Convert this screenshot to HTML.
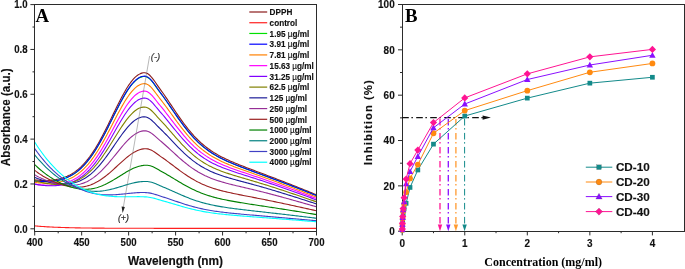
<!DOCTYPE html>
<html><head><meta charset="utf-8"><style>
html,body{margin:0;padding:0;background:#fff;}
body{width:685px;height:269px;overflow:hidden;font-family:"Liberation Sans",sans-serif;}
svg{display:block;will-change:transform;}
</style></head><body>
<svg width="685" height="269" viewBox="0 0 685 269">
<rect width="685" height="269" fill="#fff"/>
<defs><clipPath id="ca"><rect x="34.7" y="4.6" width="281.8" height="226.7"/></clipPath></defs>
<g clip-path="url(#ca)" fill="none" stroke-width="1.1" stroke-linejoin="round">
<path d="M34.70 179.81L36.11 180.00L37.52 180.16L38.93 180.29L40.34 180.39L41.75 180.46L43.15 180.51L44.56 180.52L45.97 180.51L47.38 180.47L48.79 180.40L50.20 180.30L51.61 180.17L53.02 180.01L54.43 179.82L55.84 179.60L57.24 179.33L58.65 179.03L60.06 178.69L61.47 178.30L62.88 177.87L64.29 177.38L65.70 176.85L67.11 176.26L68.52 175.61L69.93 174.90L71.33 174.12L72.74 173.28L74.15 172.37L75.56 171.38L76.97 170.31L78.38 169.16L79.79 167.93L81.20 166.62L82.61 165.21L84.02 163.72L85.42 162.13L86.83 160.45L88.24 158.68L89.65 156.81L91.06 154.85L92.47 152.80L93.88 150.65L95.29 148.42L96.70 146.09L98.11 143.69L99.51 141.20L100.92 138.63L102.33 136.00L103.74 133.30L105.15 130.55L106.56 127.75L107.97 124.91L109.38 122.03L110.79 119.13L112.20 116.23L113.60 113.32L115.01 110.42L116.42 107.54L117.83 104.70L119.24 101.90L120.65 99.16L122.06 96.50L123.47 93.91L124.88 91.43L126.28 89.05L127.69 86.80L129.10 84.67L130.51 82.70L131.92 80.87L133.33 79.21L134.74 77.72L136.15 76.41L137.56 75.29L138.97 74.37L140.38 73.64L141.78 73.12L143.19 72.80L144.60 72.72L146.01 72.96L147.42 73.55L148.83 74.49L150.24 75.76L151.65 77.31L153.06 79.09L154.47 81.03L155.87 83.06L157.28 85.13L158.69 87.17L160.10 89.15L161.51 91.07L162.92 93.03L164.33 95.03L165.74 97.07L167.15 99.13L168.56 101.22L169.96 103.32L171.37 105.43L172.78 107.54L174.19 109.65L175.60 111.74L177.01 113.82L178.42 115.87L179.83 117.89L181.24 119.88L182.64 121.84L184.05 123.75L185.46 125.62L186.87 127.44L188.28 129.22L189.69 130.94L191.10 132.61L192.51 134.22L193.92 135.79L195.33 137.29L196.74 138.75L198.14 140.15L199.55 141.50L200.96 142.79L202.37 144.03L203.78 145.23L205.19 146.38L206.60 147.48L208.01 148.54L209.42 149.55L210.82 150.53L212.23 151.46L213.64 152.37L215.05 153.24L216.46 154.07L217.87 154.88L219.28 155.66L220.69 156.41L222.10 157.14L223.51 157.85L224.92 158.54L226.32 159.21L227.73 159.87L229.14 160.51L230.55 161.13L231.96 161.75L233.37 162.35L234.78 162.94L236.19 163.52L237.60 164.09L239.00 164.66L240.41 165.22L241.82 165.78L243.23 166.33L244.64 166.87L246.05 167.42L247.46 167.96L248.87 168.49L250.28 169.03L251.69 169.56L253.10 170.09L254.50 170.62L255.91 171.15L257.32 171.68L258.73 172.21L260.14 172.74L261.55 173.27L262.96 173.80L264.37 174.33L265.78 174.86L267.19 175.39L268.59 175.93L270.00 176.46L271.41 176.99L272.82 177.53L274.23 178.06L275.64 178.60L277.05 179.14L278.46 179.68L279.87 180.22L281.27 180.77L282.68 181.31L284.09 181.85L285.50 182.40L286.91 182.95L288.32 183.50L289.73 184.05L291.14 184.61L292.55 185.16L293.96 185.72L295.37 186.28L296.77 186.83L298.18 187.40L299.59 187.96L301.00 188.52L302.41 189.09L303.82 189.66L305.23 190.23L306.64 190.80L308.05 191.38L309.45 191.95L310.86 192.53L312.27 193.11L313.68 193.70L315.09 194.28L316.50 194.87" stroke="#8a1c1c"/>
<path d="M34.70 225.89L36.11 226.01L37.52 226.14L38.93 226.25L40.34 226.36L41.75 226.46L43.15 226.56L44.56 226.66L45.97 226.75L47.38 226.83L48.79 226.91L50.20 226.98L51.61 227.05L53.02 227.12L54.43 227.19L55.84 227.25L57.24 227.31L58.65 227.36L60.06 227.41L61.47 227.46L62.88 227.51L64.29 227.55L65.70 227.59L67.11 227.63L68.52 227.67L69.93 227.71L71.33 227.74L72.74 227.77L74.15 227.80L75.56 227.83L76.97 227.86L78.38 227.88L79.79 227.91L81.20 227.93L82.61 227.95L84.02 227.97L85.42 227.99L86.83 228.01L88.24 228.03L89.65 228.05L91.06 228.06L92.47 228.08L93.88 228.09L95.29 228.11L96.70 228.12L98.11 228.13L99.51 228.14L100.92 228.15L102.33 228.16L103.74 228.17L105.15 228.18L106.56 228.19L107.97 228.20L109.38 228.21L110.79 228.21L112.20 228.22L113.60 228.23L115.01 228.24L116.42 228.24L117.83 228.25L119.24 228.25L120.65 228.26L122.06 228.26L123.47 228.27L124.88 228.27L126.28 228.28L127.69 228.28L129.10 228.28L130.51 228.29L131.92 228.29L133.33 228.29L134.74 228.30L136.15 228.30L137.56 228.30L138.97 228.30L140.38 228.31L141.78 228.31L143.19 228.31L144.60 228.31L146.01 228.32L147.42 228.32L148.83 228.32L150.24 228.32L151.65 228.32L153.06 228.32L154.47 228.33L155.87 228.33L157.28 228.33L158.69 228.33L160.10 228.33L161.51 228.33L162.92 228.33L164.33 228.33L165.74 228.33L167.15 228.34L168.56 228.34L169.96 228.34L171.37 228.34L172.78 228.34L174.19 228.34L175.60 228.34L177.01 228.34L178.42 228.34L179.83 228.34L181.24 228.34L182.64 228.34L184.05 228.34L185.46 228.34L186.87 228.34L188.28 228.34L189.69 228.34L191.10 228.35L192.51 228.35L193.92 228.35L195.33 228.35L196.74 228.35L198.14 228.35L199.55 228.35L200.96 228.35L202.37 228.35L203.78 228.35L205.19 228.35L206.60 228.35L208.01 228.35L209.42 228.35L210.82 228.35L212.23 228.35L213.64 228.35L215.05 228.35L216.46 228.35L217.87 228.35L219.28 228.35L220.69 228.35L222.10 228.35L223.51 228.35L224.92 228.35L226.32 228.35L227.73 228.35L229.14 228.35L230.55 228.35L231.96 228.35L233.37 228.35L234.78 228.35L236.19 228.35L237.60 228.35L239.00 228.35L240.41 228.35L241.82 228.35L243.23 228.35L244.64 228.35L246.05 228.35L247.46 228.35L248.87 228.35L250.28 228.35L251.69 228.35L253.10 228.35L254.50 228.35L255.91 228.35L257.32 228.35L258.73 228.35L260.14 228.35L261.55 228.35L262.96 228.35L264.37 228.35L265.78 228.35L267.19 228.35L268.59 228.35L270.00 228.35L271.41 228.35L272.82 228.35L274.23 228.35L275.64 228.35L277.05 228.35L278.46 228.35L279.87 228.35L281.27 228.35L282.68 228.35L284.09 228.35L285.50 228.35L286.91 228.35L288.32 228.35L289.73 228.35L291.14 228.35L292.55 228.35L293.96 228.35L295.37 228.35L296.77 228.35L298.18 228.35L299.59 228.35L301.00 228.35L302.41 228.35L303.82 228.35L305.23 228.35L306.64 228.35L308.05 228.35L309.45 228.35L310.86 228.35L312.27 228.35L313.68 228.35L315.09 228.35L316.50 228.35" stroke="#ff2020"/>
<path d="M34.70 180.95L36.11 181.14L37.52 181.30L38.93 181.43L40.34 181.53L41.75 181.60L43.15 181.64L44.56 181.65L45.97 181.64L47.38 181.60L48.79 181.54L50.20 181.44L51.61 181.32L53.02 181.16L54.43 180.98L55.84 180.76L57.24 180.50L58.65 180.20L60.06 179.87L61.47 179.49L62.88 179.07L64.29 178.60L65.70 178.08L67.11 177.50L68.52 176.87L69.93 176.18L71.33 175.42L72.74 174.60L74.15 173.71L75.56 172.74L76.97 171.70L78.38 170.58L79.79 169.38L81.20 168.10L82.61 166.73L84.02 165.27L85.42 163.72L86.83 162.08L88.24 160.35L89.65 158.53L91.06 156.62L92.47 154.61L93.88 152.52L95.29 150.34L96.70 148.07L98.11 145.72L99.51 143.29L100.92 140.79L102.33 138.22L103.74 135.59L105.15 132.90L106.56 130.17L107.97 127.39L109.38 124.59L110.79 121.76L112.20 118.92L113.60 116.08L115.01 113.25L116.42 110.45L117.83 107.67L119.24 104.94L120.65 102.27L122.06 99.67L123.47 97.15L124.88 94.72L126.28 92.40L127.69 90.20L129.10 88.13L130.51 86.20L131.92 84.42L133.33 82.80L134.74 81.34L136.15 80.07L137.56 78.98L138.97 78.07L140.38 77.37L141.78 76.86L143.19 76.54L144.60 76.46L146.01 76.70L147.42 77.27L148.83 78.19L150.24 79.43L151.65 80.95L153.06 82.68L154.47 84.57L155.87 86.56L157.28 88.57L158.69 90.57L160.10 92.50L161.51 94.37L162.92 96.29L164.33 98.24L165.74 100.23L167.15 102.25L168.56 104.28L169.96 106.34L171.37 108.40L172.78 110.45L174.19 112.51L175.60 114.55L177.01 116.58L178.42 118.58L179.83 120.55L181.24 122.50L182.64 124.40L184.05 126.27L185.46 128.10L186.87 129.88L188.28 131.61L189.69 133.29L191.10 134.92L192.51 136.49L193.92 138.02L195.33 139.49L196.74 140.91L198.14 142.28L199.55 143.59L200.96 144.85L202.37 146.07L203.78 147.24L205.19 148.36L206.60 149.43L208.01 150.46L209.42 151.45L210.82 152.41L212.23 153.32L213.64 154.20L215.05 155.05L216.46 155.87L217.87 156.65L219.28 157.41L220.69 158.15L222.10 158.86L223.51 159.56L224.92 160.23L226.32 160.88L227.73 161.52L229.14 162.15L230.55 162.76L231.96 163.35L233.37 163.94L234.78 164.52L236.19 165.09L237.60 165.65L239.00 166.20L240.41 166.75L241.82 167.29L243.23 167.83L244.64 168.36L246.05 168.89L247.46 169.42L248.87 169.94L250.28 170.46L251.69 170.98L253.10 171.50L254.50 172.02L255.91 172.54L257.32 173.05L258.73 173.57L260.14 174.09L261.55 174.60L262.96 175.12L264.37 175.64L265.78 176.16L267.19 176.68L268.59 177.19L270.00 177.72L271.41 178.24L272.82 178.76L274.23 179.28L275.64 179.81L277.05 180.33L278.46 180.86L279.87 181.39L281.27 181.92L282.68 182.45L284.09 182.98L285.50 183.52L286.91 184.05L288.32 184.59L289.73 185.13L291.14 185.67L292.55 186.21L293.96 186.75L295.37 187.30L296.77 187.84L298.18 188.39L299.59 188.94L301.00 189.49L302.41 190.04L303.82 190.60L305.23 191.16L306.64 191.72L308.05 192.28L309.45 192.84L310.86 193.40L312.27 193.97L313.68 194.54L315.09 195.11L316.50 195.68" stroke="#00e000"/>
<path d="M34.70 180.86L36.11 181.05L37.52 181.21L38.93 181.33L40.34 181.43L41.75 181.50L43.15 181.54L44.56 181.56L45.97 181.55L47.38 181.51L48.79 181.44L50.20 181.35L51.61 181.22L53.02 181.07L54.43 180.88L55.84 180.66L57.24 180.40L58.65 180.11L60.06 179.77L61.47 179.39L62.88 178.97L64.29 178.50L65.70 177.98L67.11 177.40L68.52 176.76L69.93 176.07L71.33 175.31L72.74 174.49L74.15 173.60L75.56 172.63L76.97 171.59L78.38 170.46L79.79 169.26L81.20 167.97L82.61 166.60L84.02 165.14L85.42 163.59L86.83 161.95L88.24 160.21L89.65 158.39L91.06 156.47L92.47 154.46L93.88 152.36L95.29 150.18L96.70 147.90L98.11 145.55L99.51 143.12L100.92 140.61L102.33 138.04L103.74 135.40L105.15 132.71L106.56 129.97L107.97 127.19L109.38 124.37L110.79 121.54L112.20 118.70L113.60 115.85L115.01 113.02L116.42 110.20L117.83 107.42L119.24 104.69L120.65 102.01L122.06 99.40L123.47 96.88L124.88 94.45L126.28 92.13L127.69 89.92L129.10 87.84L130.51 85.91L131.92 84.12L133.33 82.50L134.74 81.04L136.15 79.76L137.56 78.67L138.97 77.76L140.38 77.06L141.78 76.55L143.19 76.23L144.60 76.15L146.01 76.39L147.42 76.96L148.83 77.89L150.24 79.13L151.65 80.64L153.06 82.38L154.47 84.28L155.87 86.27L157.28 88.29L158.69 90.28L160.10 92.22L161.51 94.10L162.92 96.01L164.33 97.97L165.74 99.97L167.15 101.99L168.56 104.03L169.96 106.09L171.37 108.15L172.78 110.21L174.19 112.27L175.60 114.32L177.01 116.35L178.42 118.35L179.83 120.33L181.24 122.28L182.64 124.19L184.05 126.06L185.46 127.89L186.87 129.67L188.28 131.41L189.69 133.09L191.10 134.72L192.51 136.31L193.92 137.83L195.33 139.31L196.74 140.73L198.14 142.10L199.55 143.42L200.96 144.68L202.37 145.90L203.78 147.07L205.19 148.19L206.60 149.27L208.01 150.30L209.42 151.30L210.82 152.25L212.23 153.17L213.64 154.05L215.05 154.90L216.46 155.72L217.87 156.51L219.28 157.27L220.69 158.01L222.10 158.72L223.51 159.41L224.92 160.09L226.32 160.75L227.73 161.39L229.14 162.01L230.55 162.62L231.96 163.22L233.37 163.81L234.78 164.39L236.19 164.96L237.60 165.52L239.00 166.07L240.41 166.62L241.82 167.16L243.23 167.70L244.64 168.24L246.05 168.77L247.46 169.30L248.87 169.82L250.28 170.34L251.69 170.87L253.10 171.39L254.50 171.90L255.91 172.42L257.32 172.94L258.73 173.46L260.14 173.98L261.55 174.49L262.96 175.01L264.37 175.53L265.78 176.05L267.19 176.57L268.59 177.09L270.00 177.61L271.41 178.13L272.82 178.66L274.23 179.18L275.64 179.71L277.05 180.23L278.46 180.76L279.87 181.29L281.27 181.82L282.68 182.35L284.09 182.89L285.50 183.42L286.91 183.96L288.32 184.50L289.73 185.04L291.14 185.58L292.55 186.12L293.96 186.66L295.37 187.21L296.77 187.76L298.18 188.31L299.59 188.86L301.00 189.41L302.41 189.97L303.82 190.52L305.23 191.08L306.64 191.64L308.05 192.20L309.45 192.76L310.86 193.33L312.27 193.90L313.68 194.47L315.09 195.04L316.50 195.61" stroke="#0000ff"/>
<path d="M34.70 182.29L36.11 182.50L37.52 182.68L38.93 182.84L40.34 182.96L41.75 183.06L43.15 183.13L44.56 183.18L45.97 183.20L47.38 183.20L48.79 183.17L50.20 183.11L51.61 183.03L53.02 182.91L54.43 182.77L55.84 182.60L57.24 182.39L58.65 182.14L60.06 181.86L61.47 181.54L62.88 181.18L64.29 180.77L65.70 180.31L67.11 179.80L68.52 179.24L69.93 178.62L71.33 177.95L72.74 177.20L74.15 176.40L75.56 175.52L76.97 174.57L78.38 173.54L79.79 172.44L81.20 171.26L82.61 169.99L84.02 168.64L85.42 167.20L86.83 165.67L88.24 164.06L89.65 162.35L91.06 160.56L92.47 158.67L93.88 156.70L95.29 154.64L96.70 152.50L98.11 150.27L99.51 147.97L100.92 145.59L102.33 143.15L103.74 140.64L105.15 138.08L106.56 135.46L107.97 132.81L109.38 130.12L110.79 127.41L112.20 124.68L113.60 121.95L115.01 119.23L116.42 116.53L117.83 113.85L119.24 111.22L120.65 108.64L122.06 106.12L123.47 103.68L124.88 101.34L126.28 99.09L127.69 96.96L129.10 94.95L130.51 93.07L131.92 91.34L133.33 89.77L134.74 88.36L136.15 87.12L137.56 86.06L138.97 85.18L140.38 84.49L141.78 84.00L143.19 83.69L144.60 83.61L146.01 83.84L147.42 84.39L148.83 85.27L150.24 86.46L151.65 87.91L153.06 89.56L154.47 91.36L155.87 93.24L157.28 95.15L158.69 97.04L160.10 98.87L161.51 100.65L162.92 102.47L164.33 104.33L165.74 106.22L167.15 108.14L168.56 110.07L169.96 112.02L171.37 113.98L172.78 115.93L174.19 117.88L175.60 119.82L177.01 121.74L178.42 123.64L179.83 125.52L181.24 127.36L182.64 129.17L184.05 130.94L185.46 132.67L186.87 134.35L188.28 135.99L189.69 137.58L191.10 139.12L192.51 140.61L193.92 142.05L195.33 143.44L196.74 144.78L198.14 146.07L199.55 147.31L200.96 148.50L202.37 149.65L203.78 150.74L205.19 151.80L206.60 152.81L208.01 153.78L209.42 154.71L210.82 155.60L212.23 156.46L213.64 157.28L215.05 158.07L216.46 158.84L217.87 159.58L219.28 160.29L220.69 160.97L222.10 161.64L223.51 162.29L224.92 162.92L226.32 163.53L227.73 164.12L229.14 164.71L230.55 165.28L231.96 165.84L233.37 166.39L234.78 166.93L236.19 167.46L237.60 167.99L239.00 168.51L240.41 169.02L241.82 169.53L243.23 170.04L244.64 170.54L246.05 171.05L247.46 171.55L248.87 172.04L250.28 172.54L251.69 173.04L253.10 173.53L254.50 174.03L255.91 174.52L257.32 175.02L258.73 175.52L260.14 176.01L261.55 176.51L262.96 177.01L264.37 177.51L265.78 178.01L267.19 178.51L268.59 179.02L270.00 179.52L271.41 180.03L272.82 180.54L274.23 181.05L275.64 181.56L277.05 182.08L278.46 182.59L279.87 183.11L281.27 183.63L282.68 184.15L284.09 184.67L285.50 185.19L286.91 185.71L288.32 186.24L289.73 186.77L291.14 187.30L292.55 187.83L293.96 188.36L295.37 188.89L296.77 189.43L298.18 189.96L299.59 190.50L301.00 191.04L302.41 191.58L303.82 192.12L305.23 192.67L306.64 193.21L308.05 193.76L309.45 194.31L310.86 194.86L312.27 195.41L313.68 195.96L315.09 196.51L316.50 197.07" stroke="#ff8000"/>
<path d="M34.70 184.16L36.11 184.38L37.52 184.58L38.93 184.74L40.34 184.88L41.75 185.00L43.15 185.09L44.56 185.15L45.97 185.20L47.38 185.21L48.79 185.21L50.20 185.18L51.61 185.12L53.02 185.04L54.43 184.93L55.84 184.79L57.24 184.62L58.65 184.42L60.06 184.18L61.47 183.91L62.88 183.59L64.29 183.24L65.70 182.84L67.11 182.39L68.52 181.89L69.93 181.34L71.33 180.73L72.74 180.06L74.15 179.33L75.56 178.54L76.97 177.67L78.38 176.73L79.79 175.72L81.20 174.64L82.61 173.47L84.02 172.22L85.42 170.89L86.83 169.47L88.24 167.97L89.65 166.38L91.06 164.70L92.47 162.93L93.88 161.08L95.29 159.15L96.70 157.13L98.11 155.03L99.51 152.85L100.92 150.60L102.33 148.29L103.74 145.90L105.15 143.47L106.56 140.98L107.97 138.45L109.38 135.88L110.79 133.29L112.20 130.68L113.60 128.07L115.01 125.45L116.42 122.86L117.83 120.29L119.24 117.75L120.65 115.27L122.06 112.85L123.47 110.50L124.88 108.23L126.28 106.06L127.69 104.00L129.10 102.06L130.51 100.25L131.92 98.57L133.33 97.05L134.74 95.68L136.15 94.48L137.56 93.45L138.97 92.60L140.38 91.93L141.78 91.45L143.19 91.15L144.60 91.08L146.01 91.29L147.42 91.82L148.83 92.67L150.24 93.80L151.65 95.17L153.06 96.74L154.47 98.44L155.87 100.22L157.28 102.02L158.69 103.80L160.10 105.52L161.51 107.21L162.92 108.93L164.33 110.69L165.74 112.47L167.15 114.29L168.56 116.12L169.96 117.96L171.37 119.81L172.78 121.65L174.19 123.50L175.60 125.33L177.01 127.14L178.42 128.94L179.83 130.70L181.24 132.44L182.64 134.15L184.05 135.82L185.46 137.44L186.87 139.03L188.28 140.57L189.69 142.07L191.10 143.52L192.51 144.92L193.92 146.28L195.33 147.58L196.74 148.84L198.14 150.05L199.55 151.21L200.96 152.32L202.37 153.39L203.78 154.42L205.19 155.40L206.60 156.35L208.01 157.25L209.42 158.12L210.82 158.95L212.23 159.75L213.64 160.51L215.05 161.25L216.46 161.96L217.87 162.64L219.28 163.31L220.69 163.94L222.10 164.56L223.51 165.16L224.92 165.74L226.32 166.31L227.73 166.86L229.14 167.40L230.55 167.93L231.96 168.45L233.37 168.97L234.78 169.47L236.19 169.97L237.60 170.46L239.00 170.94L240.41 171.42L241.82 171.90L243.23 172.38L244.64 172.85L246.05 173.32L247.46 173.80L248.87 174.27L250.28 174.74L251.69 175.21L253.10 175.68L254.50 176.15L255.91 176.62L257.32 177.10L258.73 177.57L260.14 178.05L261.55 178.53L262.96 179.01L264.37 179.49L265.78 179.97L267.19 180.46L268.59 180.95L270.00 181.44L271.41 181.93L272.82 182.42L274.23 182.92L275.64 183.42L277.05 183.92L278.46 184.42L279.87 184.92L281.27 185.43L282.68 185.94L284.09 186.45L285.50 186.96L286.91 187.47L288.32 187.98L289.73 188.50L291.14 189.02L292.55 189.53L293.96 190.05L295.37 190.57L296.77 191.10L298.18 191.62L299.59 192.14L301.00 192.67L302.41 193.20L303.82 193.72L305.23 194.25L306.64 194.78L308.05 195.32L309.45 195.85L310.86 196.38L312.27 196.92L313.68 197.45L315.09 197.99L316.50 198.53" stroke="#ff00ff"/>
<path d="M34.70 184.09L36.11 184.37L37.52 184.62L38.93 184.85L40.34 185.05L41.75 185.22L43.15 185.37L44.56 185.50L45.97 185.60L47.38 185.68L48.79 185.74L50.20 185.77L51.61 185.78L53.02 185.77L54.43 185.72L55.84 185.65L57.24 185.55L58.65 185.41L60.06 185.25L61.47 185.05L62.88 184.81L64.29 184.53L65.70 184.21L67.11 183.84L68.52 183.43L69.93 182.97L71.33 182.45L72.74 181.87L74.15 181.24L75.56 180.54L76.97 179.78L78.38 178.95L79.79 178.05L81.20 177.07L82.61 176.02L84.02 174.89L85.42 173.67L86.83 172.38L88.24 171.00L89.65 169.54L91.06 167.99L92.47 166.36L93.88 164.64L95.29 162.84L96.70 160.96L98.11 159.00L99.51 156.96L100.92 154.85L102.33 152.67L103.74 150.43L105.15 148.13L106.56 145.77L107.97 143.38L109.38 140.94L110.79 138.48L112.20 136.00L113.60 133.51L115.01 131.03L116.42 128.55L117.83 126.09L119.24 123.67L120.65 121.29L122.06 118.97L123.47 116.72L124.88 114.55L126.28 112.47L127.69 110.49L129.10 108.62L130.51 106.88L131.92 105.27L133.33 103.80L134.74 102.48L136.15 101.33L137.56 100.34L138.97 99.52L140.38 98.88L141.78 98.42L143.19 98.13L144.60 98.06L146.01 98.27L147.42 98.78L148.83 99.59L150.24 100.67L151.65 101.98L153.06 103.47L154.47 105.09L155.87 106.77L157.28 108.47L158.69 110.14L160.10 111.77L161.51 113.37L162.92 115.00L164.33 116.66L165.74 118.36L167.15 120.07L168.56 121.80L169.96 123.55L171.37 125.30L172.78 127.04L174.19 128.79L175.60 130.52L177.01 132.24L178.42 133.93L179.83 135.60L181.24 137.25L182.64 138.86L184.05 140.43L185.46 141.97L186.87 143.47L188.28 144.92L189.69 146.34L191.10 147.70L192.51 149.02L193.92 150.30L195.33 151.53L196.74 152.71L198.14 153.85L199.55 154.94L200.96 155.99L202.37 156.99L203.78 157.96L205.19 158.88L206.60 159.76L208.01 160.61L209.42 161.42L210.82 162.20L212.23 162.95L213.64 163.66L215.05 164.35L216.46 165.01L217.87 165.65L219.28 166.27L220.69 166.86L222.10 167.44L223.51 168.00L224.92 168.54L226.32 169.07L227.73 169.59L229.14 170.09L230.55 170.59L231.96 171.07L233.37 171.55L234.78 172.02L236.19 172.48L237.60 172.94L239.00 173.40L240.41 173.85L241.82 174.30L243.23 174.75L244.64 175.20L246.05 175.64L247.46 176.09L248.87 176.53L250.28 176.98L251.69 177.42L253.10 177.87L254.50 178.32L255.91 178.77L257.32 179.22L258.73 179.68L260.14 180.14L261.55 180.59L262.96 181.05L264.37 181.52L265.78 181.98L267.19 182.45L268.59 182.92L270.00 183.39L271.41 183.87L272.82 184.35L274.23 184.83L275.64 185.31L277.05 185.79L278.46 186.28L279.87 186.77L281.27 187.26L282.68 187.75L284.09 188.24L285.50 188.74L286.91 189.24L288.32 189.73L289.73 190.23L291.14 190.74L292.55 191.24L293.96 191.74L295.37 192.25L296.77 192.75L298.18 193.26L299.59 193.77L301.00 194.28L302.41 194.79L303.82 195.30L305.23 195.81L306.64 196.33L308.05 196.84L309.45 197.35L310.86 197.87L312.27 198.39L313.68 198.90L315.09 199.42L316.50 199.94" stroke="#8000ff"/>
<path d="M34.70 180.58L36.11 181.03L37.52 181.45L38.93 181.84L40.34 182.20L41.75 182.53L43.15 182.83L44.56 183.11L45.97 183.36L47.38 183.59L48.79 183.79L50.20 183.97L51.61 184.11L53.02 184.24L54.43 184.33L55.84 184.40L57.24 184.43L58.65 184.43L60.06 184.40L61.47 184.33L62.88 184.23L64.29 184.09L65.70 183.90L67.11 183.67L68.52 183.40L69.93 183.07L71.33 182.69L72.74 182.26L74.15 181.77L75.56 181.22L76.97 180.61L78.38 179.94L79.79 179.19L81.20 178.37L82.61 177.48L84.02 176.52L85.42 175.48L86.83 174.36L88.24 173.16L89.65 171.88L91.06 170.52L92.47 169.08L93.88 167.56L95.29 165.96L96.70 164.28L98.11 162.53L99.51 160.70L100.92 158.80L102.33 156.84L103.74 154.81L105.15 152.73L106.56 150.60L107.97 148.43L109.38 146.22L110.79 143.98L112.20 141.72L113.60 139.45L115.01 137.18L116.42 134.92L117.83 132.67L119.24 130.46L120.65 128.28L122.06 126.16L123.47 124.09L124.88 122.10L126.28 120.19L127.69 118.38L129.10 116.67L130.51 115.07L131.92 113.59L133.33 112.25L134.74 111.04L136.15 109.99L137.56 109.08L138.97 108.34L140.38 107.76L141.78 107.34L143.19 107.09L144.60 107.04L146.01 107.25L147.42 107.74L148.83 108.50L150.24 109.52L151.65 110.74L153.06 112.14L154.47 113.64L155.87 115.20L157.28 116.78L158.69 118.34L160.10 119.85L161.51 121.34L162.92 122.85L164.33 124.40L165.74 125.97L167.15 127.57L168.56 129.18L169.96 130.80L171.37 132.42L172.78 134.04L174.19 135.66L175.60 137.27L177.01 138.86L178.42 140.44L179.83 141.99L181.24 143.51L182.64 145.01L184.05 146.47L185.46 147.90L186.87 149.28L188.28 150.63L189.69 151.94L191.10 153.21L192.51 154.43L193.92 155.61L195.33 156.75L196.74 157.84L198.14 158.90L199.55 159.91L200.96 160.87L202.37 161.80L203.78 162.69L205.19 163.54L206.60 164.36L208.01 165.14L209.42 165.89L210.82 166.60L212.23 167.29L213.64 167.95L215.05 168.58L216.46 169.19L217.87 169.78L219.28 170.35L220.69 170.89L222.10 171.42L223.51 171.94L224.92 172.43L226.32 172.92L227.73 173.39L229.14 173.86L230.55 174.31L231.96 174.76L233.37 175.20L234.78 175.63L236.19 176.06L237.60 176.48L239.00 176.90L240.41 177.32L241.82 177.74L243.23 178.15L244.64 178.57L246.05 178.98L247.46 179.39L248.87 179.81L250.28 180.22L251.69 180.64L253.10 181.05L254.50 181.47L255.91 181.89L257.32 182.32L258.73 182.74L260.14 183.17L261.55 183.60L262.96 184.03L264.37 184.47L265.78 184.90L267.19 185.34L268.59 185.79L270.00 186.23L271.41 186.68L272.82 187.13L274.23 187.58L275.64 188.04L277.05 188.49L278.46 188.95L279.87 189.41L281.27 189.88L282.68 190.34L284.09 190.81L285.50 191.28L286.91 191.75L288.32 192.22L289.73 192.69L291.14 193.17L292.55 193.64L293.96 194.12L295.37 194.59L296.77 195.07L298.18 195.55L299.59 196.03L301.00 196.51L302.41 197.00L303.82 197.48L305.23 197.96L306.64 198.45L308.05 198.93L309.45 199.42L310.86 199.90L312.27 200.39L313.68 200.87L315.09 201.36L316.50 201.85" stroke="#808000"/>
<path d="M34.70 177.32L36.11 177.94L37.52 178.53L38.93 179.08L40.34 179.60L41.75 180.09L43.15 180.55L44.56 180.98L45.97 181.39L47.38 181.77L48.79 182.12L50.20 182.44L51.61 182.74L53.02 183.01L54.43 183.25L55.84 183.46L57.24 183.64L58.65 183.79L60.06 183.90L61.47 183.98L62.88 184.02L64.29 184.03L65.70 184.00L67.11 183.92L68.52 183.80L69.93 183.63L71.33 183.41L72.74 183.14L74.15 182.82L75.56 182.44L76.97 182.00L78.38 181.50L79.79 180.93L81.20 180.30L82.61 179.60L84.02 178.82L85.42 177.98L86.83 177.06L88.24 176.06L89.65 174.99L91.06 173.84L92.47 172.61L93.88 171.30L95.29 169.92L96.70 168.47L98.11 166.94L99.51 165.33L100.92 163.66L102.33 161.93L103.74 160.13L105.15 158.28L106.56 156.38L107.97 154.43L109.38 152.45L110.79 150.44L112.20 148.40L113.60 146.35L115.01 144.29L116.42 142.24L117.83 140.20L119.24 138.18L120.65 136.20L122.06 134.26L123.47 132.38L124.88 130.56L126.28 128.81L127.69 127.15L129.10 125.58L130.51 124.11L131.92 122.76L133.33 121.52L134.74 120.42L136.15 119.45L137.56 118.62L138.97 117.95L140.38 117.42L141.78 117.05L143.19 116.83L144.60 116.80L146.01 117.01L147.42 117.47L148.83 118.19L150.24 119.14L151.65 120.28L153.06 121.56L154.47 122.95L155.87 124.38L157.28 125.82L158.69 127.25L160.10 128.63L161.51 129.99L162.92 131.38L164.33 132.80L165.74 134.25L167.15 135.71L168.56 137.19L169.96 138.67L171.37 140.16L172.78 141.65L174.19 143.13L175.60 144.61L177.01 146.07L178.42 147.51L179.83 148.93L181.24 150.33L182.64 151.69L184.05 153.03L185.46 154.34L186.87 155.61L188.28 156.84L189.69 158.04L191.10 159.20L192.51 160.31L193.92 161.39L195.33 162.43L196.74 163.43L198.14 164.39L199.55 165.31L200.96 166.19L202.37 167.03L203.78 167.84L205.19 168.62L206.60 169.36L208.01 170.07L209.42 170.75L210.82 171.40L212.23 172.02L213.64 172.62L215.05 173.19L216.46 173.75L217.87 174.28L219.28 174.79L220.69 175.28L222.10 175.76L223.51 176.23L224.92 176.68L226.32 177.12L227.73 177.55L229.14 177.97L230.55 178.38L231.96 178.78L233.37 179.18L234.78 179.57L236.19 179.96L237.60 180.35L239.00 180.73L240.41 181.11L241.82 181.49L243.23 181.87L244.64 182.25L246.05 182.62L247.46 183.00L248.87 183.38L250.28 183.76L251.69 184.14L253.10 184.53L254.50 184.91L255.91 185.30L257.32 185.69L258.73 186.09L260.14 186.48L261.55 186.88L262.96 187.28L264.37 187.69L265.78 188.09L267.19 188.50L268.59 188.91L270.00 189.33L271.41 189.75L272.82 190.17L274.23 190.59L275.64 191.01L277.05 191.44L278.46 191.87L279.87 192.30L281.27 192.74L282.68 193.17L284.09 193.61L285.50 194.05L286.91 194.49L288.32 194.93L289.73 195.37L291.14 195.82L292.55 196.26L293.96 196.71L295.37 197.15L296.77 197.60L298.18 198.05L299.59 198.50L301.00 198.95L302.41 199.40L303.82 199.85L305.23 200.30L306.64 200.76L308.05 201.21L309.45 201.66L310.86 202.11L312.27 202.57L313.68 203.02L315.09 203.48L316.50 203.93" stroke="#1c1c98"/>
<path d="M34.70 174.82L36.11 175.63L37.52 176.40L38.93 177.13L40.34 177.82L41.75 178.49L43.15 179.12L44.56 179.73L45.97 180.30L47.38 180.84L48.79 181.36L50.20 181.85L51.61 182.31L53.02 182.74L54.43 183.14L55.84 183.51L57.24 183.86L58.65 184.17L60.06 184.45L61.47 184.70L62.88 184.91L64.29 185.09L65.70 185.24L67.11 185.34L68.52 185.41L69.93 185.43L71.33 185.41L72.74 185.34L74.15 185.22L75.56 185.05L76.97 184.83L78.38 184.56L79.79 184.23L81.20 183.84L82.61 183.38L84.02 182.87L85.42 182.29L86.83 181.64L88.24 180.93L89.65 180.14L91.06 179.29L92.47 178.36L93.88 177.36L95.29 176.30L96.70 175.16L98.11 173.95L99.51 172.68L100.92 171.34L102.33 169.95L103.74 168.49L105.15 166.97L106.56 165.41L107.97 163.80L109.38 162.15L110.79 160.47L112.20 158.75L113.60 157.02L115.01 155.28L116.42 153.53L117.83 151.78L119.24 150.05L120.65 148.33L122.06 146.65L123.47 145.00L124.88 143.41L126.28 141.87L127.69 140.40L129.10 139.00L130.51 137.69L131.92 136.47L133.33 135.35L134.74 134.34L136.15 133.44L137.56 132.67L138.97 132.02L140.38 131.50L141.78 131.12L143.19 130.88L144.60 130.77L146.01 130.86L147.42 131.18L148.83 131.71L150.24 132.46L151.65 133.39L153.06 134.47L154.47 135.64L155.87 136.88L157.28 138.13L158.69 139.38L160.10 140.60L161.51 141.79L162.92 142.99L164.33 144.22L165.74 145.47L167.15 146.74L168.56 148.02L169.96 149.31L171.37 150.61L172.78 151.91L174.19 153.21L175.60 154.50L177.01 155.78L178.42 157.04L179.83 158.29L181.24 159.52L182.64 160.72L184.05 161.90L185.46 163.05L186.87 164.17L188.28 165.26L189.69 166.32L191.10 167.34L192.51 168.33L193.92 169.28L195.33 170.20L196.74 171.09L198.14 171.94L199.55 172.75L200.96 173.53L202.37 174.28L203.78 175.00L205.19 175.69L206.60 176.34L208.01 176.97L209.42 177.57L210.82 178.15L212.23 178.70L213.64 179.22L215.05 179.73L216.46 180.22L217.87 180.68L219.28 181.13L220.69 181.57L222.10 181.99L223.51 182.40L224.92 182.79L226.32 183.18L227.73 183.55L229.14 183.92L230.55 184.28L231.96 184.63L233.37 184.98L234.78 185.32L236.19 185.66L237.60 185.99L239.00 186.33L240.41 186.66L241.82 186.99L243.23 187.32L244.64 187.65L246.05 187.98L247.46 188.31L248.87 188.64L250.28 188.98L251.69 189.31L253.10 189.65L254.50 189.99L255.91 190.33L257.32 190.67L258.73 191.02L260.14 191.36L261.55 191.71L262.96 192.07L264.37 192.42L265.78 192.78L267.19 193.14L268.59 193.51L270.00 193.87L271.41 194.24L272.82 194.62L274.23 194.99L275.64 195.37L277.05 195.74L278.46 196.12L279.87 196.51L281.27 196.89L282.68 197.28L284.09 197.66L285.50 198.05L286.91 198.44L288.32 198.84L289.73 199.23L291.14 199.62L292.55 200.02L293.96 200.41L295.37 200.81L296.77 201.21L298.18 201.60L299.59 202.00L301.00 202.40L302.41 202.80L303.82 203.20L305.23 203.60L306.64 204.00L308.05 204.40L309.45 204.80L310.86 205.20L312.27 205.60L313.68 206.00L315.09 206.40L316.50 206.80" stroke="#962e96"/>
<path d="M34.70 170.33L36.11 171.41L37.52 172.44L38.93 173.43L40.34 174.37L41.75 175.28L43.15 176.16L44.56 177.00L45.97 177.80L47.38 178.58L48.79 179.32L50.20 180.03L51.61 180.70L53.02 181.35L54.43 181.97L55.84 182.55L57.24 183.11L58.65 183.63L60.06 184.12L61.47 184.58L62.88 185.00L64.29 185.39L65.70 185.75L67.11 186.07L68.52 186.36L69.93 186.60L71.33 186.81L72.74 186.97L74.15 187.09L75.56 187.17L76.97 187.20L78.38 187.19L79.79 187.13L81.20 187.01L82.61 186.85L84.02 186.63L85.42 186.35L86.83 186.03L88.24 185.64L89.65 185.20L91.06 184.69L92.47 184.13L93.88 183.51L95.29 182.83L96.70 182.09L98.11 181.29L99.51 180.44L100.92 179.53L102.33 178.57L103.74 177.56L105.15 176.49L106.56 175.39L107.97 174.24L109.38 173.05L110.79 171.83L112.20 170.58L113.60 169.31L115.01 168.02L116.42 166.73L117.83 165.42L119.24 164.12L120.65 162.82L122.06 161.54L123.47 160.29L124.88 159.06L126.28 157.87L127.69 156.72L129.10 155.62L130.51 154.59L131.92 153.61L133.33 152.71L134.74 151.89L136.15 151.15L137.56 150.49L138.97 149.94L140.38 149.48L141.78 149.12L143.19 148.87L144.60 148.73L146.01 148.71L147.42 148.84L148.83 149.16L150.24 149.66L151.65 150.32L153.06 151.12L154.47 152.03L155.87 153.01L157.28 154.03L158.69 155.06L160.10 156.08L161.51 157.08L162.92 158.05L164.33 159.05L165.74 160.06L167.15 161.09L168.56 162.13L169.96 163.19L171.37 164.25L172.78 165.31L174.19 166.38L175.60 167.45L177.01 168.50L178.42 169.55L179.83 170.59L181.24 171.61L182.64 172.62L184.05 173.61L185.46 174.57L186.87 175.52L188.28 176.44L189.69 177.33L191.10 178.20L192.51 179.04L193.92 179.85L195.33 180.64L196.74 181.40L198.14 182.12L199.55 182.82L200.96 183.50L202.37 184.14L203.78 184.76L205.19 185.36L206.60 185.92L208.01 186.47L209.42 186.99L210.82 187.49L212.23 187.97L213.64 188.43L215.05 188.87L216.46 189.30L217.87 189.71L219.28 190.10L220.69 190.48L222.10 190.85L223.51 191.20L224.92 191.54L226.32 191.88L227.73 192.20L229.14 192.52L230.55 192.83L231.96 193.14L233.37 193.43L234.78 193.73L236.19 194.02L237.60 194.30L239.00 194.59L240.41 194.87L241.82 195.14L243.23 195.42L244.64 195.70L246.05 195.97L247.46 196.24L248.87 196.52L250.28 196.79L251.69 197.07L253.10 197.34L254.50 197.61L255.91 197.89L257.32 198.17L258.73 198.44L260.14 198.72L261.55 199.00L262.96 199.29L264.37 199.57L265.78 199.85L267.19 200.14L268.59 200.42L270.00 200.71L271.41 201.00L272.82 201.29L274.23 201.59L275.64 201.88L277.05 202.18L278.46 202.47L279.87 202.77L281.27 203.07L282.68 203.37L284.09 203.67L285.50 203.97L286.91 204.28L288.32 204.58L289.73 204.88L291.14 205.19L292.55 205.50L293.96 205.80L295.37 206.11L296.77 206.42L298.18 206.73L299.59 207.04L301.00 207.35L302.41 207.66L303.82 207.97L305.23 208.28L306.64 208.60L308.05 208.91L309.45 209.22L310.86 209.54L312.27 209.85L313.68 210.16L315.09 210.48L316.50 210.80" stroke="#9a2020"/>
<path d="M34.70 164.56L36.11 165.92L37.52 167.23L38.93 168.50L40.34 169.72L41.75 170.89L43.15 172.03L44.56 173.12L45.97 174.18L47.38 175.19L48.79 176.17L50.20 177.12L51.61 178.03L53.02 178.90L54.43 179.75L55.84 180.55L57.24 181.33L58.65 182.07L60.06 182.77L61.47 183.45L62.88 184.09L64.29 184.69L65.70 185.27L67.11 185.80L68.52 186.31L69.93 186.77L71.33 187.20L72.74 187.59L74.15 187.95L75.56 188.26L76.97 188.53L78.38 188.77L79.79 188.96L81.20 189.11L82.61 189.21L84.02 189.27L85.42 189.28L86.83 189.25L88.24 189.17L89.65 189.04L91.06 188.86L92.47 188.64L93.88 188.36L95.29 188.04L96.70 187.67L98.11 187.25L99.51 186.78L100.92 186.27L102.33 185.71L103.74 185.11L105.15 184.47L106.56 183.79L107.97 183.07L109.38 182.32L110.79 181.54L112.20 180.73L113.60 179.90L115.01 179.05L116.42 178.18L117.83 177.31L119.24 176.42L120.65 175.54L122.06 174.66L123.47 173.79L124.88 172.93L126.28 172.09L127.69 171.28L129.10 170.49L130.51 169.74L131.92 169.04L133.33 168.37L134.74 167.76L136.15 167.21L137.56 166.71L138.97 166.28L140.38 165.92L141.78 165.63L143.19 165.42L144.60 165.28L146.01 165.23L147.42 165.27L148.83 165.45L150.24 165.76L151.65 166.21L153.06 166.78L154.47 167.46L155.87 168.21L157.28 169.01L158.69 169.83L160.10 170.66L161.51 171.47L162.92 172.26L164.33 173.04L165.74 173.83L167.15 174.65L168.56 175.47L169.96 176.31L171.37 177.16L172.78 178.01L174.19 178.87L175.60 179.72L177.01 180.57L178.42 181.42L179.83 182.26L181.24 183.09L182.64 183.91L184.05 184.72L185.46 185.51L186.87 186.28L188.28 187.04L189.69 187.77L191.10 188.49L192.51 189.19L193.92 189.86L195.33 190.52L196.74 191.15L198.14 191.76L199.55 192.35L200.96 192.91L202.37 193.46L203.78 193.98L205.19 194.49L206.60 194.97L208.01 195.43L209.42 195.88L210.82 196.31L212.23 196.72L213.64 197.11L215.05 197.49L216.46 197.86L217.87 198.21L219.28 198.55L220.69 198.87L222.10 199.19L223.51 199.49L224.92 199.79L226.32 200.08L227.73 200.36L229.14 200.63L230.55 200.89L231.96 201.15L233.37 201.40L234.78 201.65L236.19 201.89L237.60 202.13L239.00 202.37L240.41 202.60L241.82 202.83L243.23 203.06L244.64 203.28L246.05 203.51L247.46 203.73L248.87 203.95L250.28 204.17L251.69 204.38L253.10 204.60L254.50 204.82L255.91 205.03L257.32 205.25L258.73 205.46L260.14 205.68L261.55 205.89L262.96 206.10L264.37 206.32L265.78 206.53L267.19 206.75L268.59 206.96L270.00 207.18L271.41 207.39L272.82 207.61L274.23 207.83L275.64 208.04L277.05 208.26L278.46 208.48L279.87 208.70L281.27 208.91L282.68 209.13L284.09 209.35L285.50 209.57L286.91 209.79L288.32 210.02L289.73 210.24L291.14 210.46L292.55 210.68L293.96 210.91L295.37 211.13L296.77 211.36L298.18 211.58L299.59 211.81L301.00 212.04L302.41 212.27L303.82 212.50L305.23 212.73L306.64 212.96L308.05 213.19L309.45 213.42L310.86 213.65L312.27 213.89L313.68 214.12L315.09 214.35L316.50 214.59" stroke="#008000"/>
<path d="M34.70 154.79L36.11 156.54L37.52 158.23L38.93 159.87L40.34 161.46L41.75 162.99L43.15 164.48L44.56 165.91L45.97 167.30L47.38 168.65L48.79 169.95L50.20 171.21L51.61 172.42L53.02 173.60L54.43 174.74L55.84 175.83L57.24 176.89L58.65 177.91L60.06 178.90L61.47 179.84L62.88 180.75L64.29 181.62L65.70 182.46L67.11 183.26L68.52 184.02L69.93 184.75L71.33 185.44L72.74 186.09L74.15 186.71L75.56 187.29L76.97 187.83L78.38 188.33L79.79 188.80L81.20 189.23L82.61 189.61L84.02 189.96L85.42 190.28L86.83 190.55L88.24 190.78L89.65 190.97L91.06 191.13L92.47 191.24L93.88 191.32L95.29 191.35L96.70 191.35L98.11 191.31L99.51 191.23L100.92 191.11L102.33 190.97L103.74 190.78L105.15 190.57L106.56 190.32L107.97 190.04L109.38 189.74L110.79 189.41L112.20 189.06L113.60 188.69L115.01 188.30L116.42 187.90L117.83 187.48L119.24 187.06L120.65 186.62L122.06 186.19L123.47 185.75L124.88 185.32L126.28 184.89L127.69 184.48L129.10 184.07L130.51 183.68L131.92 183.32L133.33 182.97L134.74 182.65L136.15 182.37L137.56 182.11L138.97 181.90L140.38 181.72L141.78 181.59L143.19 181.50L144.60 181.46L146.01 181.47L147.42 181.55L148.83 181.72L150.24 181.98L151.65 182.34L153.06 182.78L154.47 183.29L155.87 183.86L157.28 184.46L158.69 185.08L160.10 185.70L161.51 186.30L162.92 186.89L164.33 187.47L165.74 188.06L167.15 188.67L168.56 189.28L169.96 189.90L171.37 190.53L172.78 191.16L174.19 191.79L175.60 192.42L177.01 193.05L178.42 193.68L179.83 194.31L181.24 194.92L182.64 195.53L184.05 196.13L185.46 196.71L186.87 197.29L188.28 197.85L189.69 198.39L191.10 198.92L192.51 199.44L193.92 199.94L195.33 200.43L196.74 200.90L198.14 201.35L199.55 201.78L200.96 202.20L202.37 202.61L203.78 203.00L205.19 203.37L206.60 203.73L208.01 204.07L209.42 204.40L210.82 204.72L212.23 205.03L213.64 205.32L215.05 205.60L216.46 205.87L217.87 206.13L219.28 206.38L220.69 206.62L222.10 206.86L223.51 207.08L224.92 207.30L226.32 207.52L227.73 207.72L229.14 207.92L230.55 208.12L231.96 208.31L233.37 208.50L234.78 208.68L236.19 208.86L237.60 209.04L239.00 209.22L240.41 209.39L241.82 209.56L243.23 209.73L244.64 209.89L246.05 210.06L247.46 210.22L248.87 210.39L250.28 210.55L251.69 210.71L253.10 210.87L254.50 211.03L255.91 211.19L257.32 211.35L258.73 211.51L260.14 211.67L261.55 211.82L262.96 211.98L264.37 212.14L265.78 212.30L267.19 212.46L268.59 212.62L270.00 212.78L271.41 212.94L272.82 213.10L274.23 213.26L275.64 213.42L277.05 213.58L278.46 213.74L279.87 213.90L281.27 214.06L282.68 214.23L284.09 214.39L285.50 214.55L286.91 214.72L288.32 214.88L289.73 215.05L291.14 215.21L292.55 215.38L293.96 215.54L295.37 215.71L296.77 215.88L298.18 216.04L299.59 216.21L301.00 216.38L302.41 216.55L303.82 216.72L305.23 216.89L306.64 217.06L308.05 217.23L309.45 217.40L310.86 217.57L312.27 217.75L313.68 217.92L315.09 218.09L316.50 218.27" stroke="#008080"/>
<path d="M34.70 148.60L36.11 150.60L37.52 152.54L38.93 154.42L40.34 156.25L41.75 158.01L43.15 159.72L44.56 161.38L45.97 162.99L47.38 164.55L48.79 166.06L50.20 167.52L51.61 168.94L53.02 170.31L54.43 171.64L55.84 172.93L57.24 174.17L58.65 175.37L60.06 176.54L61.47 177.66L62.88 178.74L64.29 179.79L65.70 180.80L67.11 181.77L68.52 182.70L69.93 183.60L71.33 184.46L72.74 185.29L74.15 186.08L75.56 186.83L76.97 187.55L78.38 188.23L79.79 188.88L81.20 189.49L82.61 190.07L84.02 190.61L85.42 191.12L86.83 191.60L88.24 192.04L89.65 192.45L91.06 192.82L92.47 193.16L93.88 193.47L95.29 193.74L96.70 193.99L98.11 194.20L99.51 194.38L100.92 194.53L102.33 194.66L103.74 194.75L105.15 194.83L106.56 194.87L107.97 194.89L109.38 194.89L110.79 194.87L112.20 194.83L113.60 194.77L115.01 194.69L116.42 194.60L117.83 194.49L119.24 194.37L120.65 194.25L122.06 194.11L123.47 193.97L124.88 193.83L126.28 193.68L127.69 193.53L129.10 193.39L130.51 193.25L131.92 193.11L133.33 192.98L134.74 192.86L136.15 192.76L137.56 192.67L138.97 192.60L140.38 192.55L141.78 192.53L143.19 192.53L144.60 192.56L146.01 192.62L147.42 192.72L148.83 192.88L150.24 193.11L151.65 193.41L153.06 193.76L154.47 194.17L155.87 194.61L157.28 195.08L158.69 195.56L160.10 196.03L161.51 196.49L162.92 196.94L164.33 197.39L165.74 197.84L167.15 198.30L168.56 198.76L169.96 199.23L171.37 199.71L172.78 200.19L174.19 200.67L175.60 201.15L177.01 201.63L178.42 202.11L179.83 202.58L181.24 203.05L182.64 203.51L184.05 203.97L185.46 204.41L186.87 204.85L188.28 205.28L189.69 205.69L191.10 206.09L192.51 206.49L193.92 206.87L195.33 207.24L196.74 207.59L198.14 207.94L199.55 208.27L200.96 208.59L202.37 208.89L203.78 209.19L205.19 209.47L206.60 209.75L208.01 210.01L209.42 210.26L210.82 210.50L212.23 210.73L213.64 210.95L215.05 211.17L216.46 211.37L217.87 211.57L219.28 211.76L220.69 211.95L222.10 212.12L223.51 212.30L224.92 212.46L226.32 212.62L227.73 212.78L229.14 212.93L230.55 213.08L231.96 213.23L233.37 213.37L234.78 213.51L236.19 213.65L237.60 213.78L239.00 213.92L240.41 214.05L241.82 214.18L243.23 214.30L244.64 214.43L246.05 214.56L247.46 214.68L248.87 214.80L250.28 214.93L251.69 215.05L253.10 215.17L254.50 215.29L255.91 215.42L257.32 215.54L258.73 215.66L260.14 215.78L261.55 215.90L262.96 216.02L264.37 216.14L265.78 216.26L267.19 216.38L268.59 216.50L270.00 216.62L271.41 216.74L272.82 216.87L274.23 216.99L275.64 217.11L277.05 217.23L278.46 217.35L279.87 217.48L281.27 217.60L282.68 217.72L284.09 217.85L285.50 217.97L286.91 218.10L288.32 218.22L289.73 218.35L291.14 218.47L292.55 218.60L293.96 218.72L295.37 218.85L296.77 218.98L298.18 219.10L299.59 219.23L301.00 219.36L302.41 219.49L303.82 219.62L305.23 219.75L306.64 219.88L308.05 220.01L309.45 220.14L310.86 220.27L312.27 220.40L313.68 220.53L315.09 220.66L316.50 220.80" stroke="#4040c4"/>
<path d="M34.70 142.09L36.11 144.31L37.52 146.46L38.93 148.54L40.34 150.56L41.75 152.52L43.15 154.42L44.56 156.27L45.97 158.05L47.38 159.79L48.79 161.47L50.20 163.09L51.61 164.67L53.02 166.20L54.43 167.69L55.84 169.12L57.24 170.52L58.65 171.86L60.06 173.17L61.47 174.43L62.88 175.65L64.29 176.83L65.70 177.97L67.11 179.07L68.52 180.13L69.93 181.15L71.33 182.14L72.74 183.08L74.15 184.00L75.56 184.87L76.97 185.71L78.38 186.51L79.79 187.28L81.20 188.02L82.61 188.72L84.02 189.38L85.42 190.02L86.83 190.62L88.24 191.18L89.65 191.72L91.06 192.22L92.47 192.69L93.88 193.13L95.29 193.54L96.70 193.92L98.11 194.28L99.51 194.60L100.92 194.90L102.33 195.17L103.74 195.42L105.15 195.64L106.56 195.84L107.97 196.02L109.38 196.17L110.79 196.31L112.20 196.42L113.60 196.52L115.01 196.60L116.42 196.67L117.83 196.72L119.24 196.76L120.65 196.79L122.06 196.80L123.47 196.81L124.88 196.81L126.28 196.80L127.69 196.79L129.10 196.77L130.51 196.75L131.92 196.73L133.33 196.71L134.74 196.69L136.15 196.68L137.56 196.67L138.97 196.67L140.38 196.69L141.78 196.72L143.19 196.76L144.60 196.83L146.01 196.92L147.42 197.03L148.83 197.20L150.24 197.42L151.65 197.70L153.06 198.02L154.47 198.39L155.87 198.79L157.28 199.20L158.69 199.63L160.10 200.05L161.51 200.46L162.92 200.85L164.33 201.24L165.74 201.64L167.15 202.04L168.56 202.45L169.96 202.87L171.37 203.28L172.78 203.70L174.19 204.13L175.60 204.55L177.01 204.97L178.42 205.39L179.83 205.80L181.24 206.21L182.64 206.62L184.05 207.02L185.46 207.41L186.87 207.79L188.28 208.16L189.69 208.53L191.10 208.88L192.51 209.23L193.92 209.56L195.33 209.88L196.74 210.20L198.14 210.50L199.55 210.79L200.96 211.07L202.37 211.34L203.78 211.60L205.19 211.85L206.60 212.09L208.01 212.32L209.42 212.54L210.82 212.75L212.23 212.95L213.64 213.15L215.05 213.33L216.46 213.51L217.87 213.69L219.28 213.85L220.69 214.02L222.10 214.17L223.51 214.32L224.92 214.47L226.32 214.61L227.73 214.75L229.14 214.88L230.55 215.01L231.96 215.14L233.37 215.27L234.78 215.39L236.19 215.51L237.60 215.63L239.00 215.74L240.41 215.86L241.82 215.97L243.23 216.08L244.64 216.20L246.05 216.31L247.46 216.41L248.87 216.52L250.28 216.63L251.69 216.74L253.10 216.85L254.50 216.95L255.91 217.06L257.32 217.16L258.73 217.27L260.14 217.38L261.55 217.48L262.96 217.59L264.37 217.69L265.78 217.80L267.19 217.91L268.59 218.01L270.00 218.12L271.41 218.23L272.82 218.33L274.23 218.44L275.64 218.55L277.05 218.65L278.46 218.76L279.87 218.87L281.27 218.98L282.68 219.08L284.09 219.19L285.50 219.30L286.91 219.41L288.32 219.52L289.73 219.63L291.14 219.74L292.55 219.85L293.96 219.96L295.37 220.07L296.77 220.18L298.18 220.30L299.59 220.41L301.00 220.52L302.41 220.63L303.82 220.74L305.23 220.86L306.64 220.97L308.05 221.09L309.45 221.20L310.86 221.32L312.27 221.43L313.68 221.55L315.09 221.66L316.50 221.78" stroke="#00ffff"/>
</g>
<line x1="149.6" y1="56.0" x2="123.2" y2="208" stroke="#7a7a7a" stroke-width="0.55"/>
<path d="M121.6 206.6 L124.9 207.1 L122.6 213.0 Z" fill="#222"/>
<text x="150.7" y="59.6" font-family="Liberation Sans" font-style="italic" font-size="9.6" fill="#333" stroke="#333" stroke-width="0.15">(-)</text>
<text x="117.9" y="221.4" font-family="Liberation Sans" font-style="italic" font-size="8.9" fill="#222" stroke="#222" stroke-width="0.15">(+)</text>
<g stroke="#2b2b2b" stroke-width="1" fill="none">
<rect x="34.5" y="4.5" width="282" height="227"/>
<line x1="30.4" y1="228.80" x2="34.7" y2="228.80"/>
<line x1="30.4" y1="183.96" x2="34.7" y2="183.96"/>
<line x1="30.4" y1="139.12" x2="34.7" y2="139.12"/>
<line x1="30.4" y1="94.28" x2="34.7" y2="94.28"/>
<line x1="30.4" y1="49.44" x2="34.7" y2="49.44"/>
<line x1="30.4" y1="4.60" x2="34.7" y2="4.60"/>
<line x1="32.5" y1="206.38" x2="34.7" y2="206.38"/>
<line x1="32.5" y1="161.54" x2="34.7" y2="161.54"/>
<line x1="32.5" y1="116.70" x2="34.7" y2="116.70"/>
<line x1="32.5" y1="71.86" x2="34.7" y2="71.86"/>
<line x1="32.5" y1="27.02" x2="34.7" y2="27.02"/>
<line x1="34.70" y1="231.3" x2="34.70" y2="235.5"/>
<line x1="81.67" y1="231.3" x2="81.67" y2="235.5"/>
<line x1="128.63" y1="231.3" x2="128.63" y2="235.5"/>
<line x1="175.60" y1="231.3" x2="175.60" y2="235.5"/>
<line x1="222.57" y1="231.3" x2="222.57" y2="235.5"/>
<line x1="269.53" y1="231.3" x2="269.53" y2="235.5"/>
<line x1="316.50" y1="231.3" x2="316.50" y2="235.5"/>
<line x1="58.18" y1="231.3" x2="58.18" y2="233.3"/>
<line x1="105.15" y1="231.3" x2="105.15" y2="233.3"/>
<line x1="152.12" y1="231.3" x2="152.12" y2="233.3"/>
<line x1="199.08" y1="231.3" x2="199.08" y2="233.3"/>
<line x1="246.05" y1="231.3" x2="246.05" y2="233.3"/>
<line x1="293.02" y1="231.3" x2="293.02" y2="233.3"/>
</g>
<g font-family="Liberation Sans" font-weight="bold" fill="#111" stroke="#111" stroke-width="0.15" font-size="11.2" text-anchor="end">
<text transform="translate(27.6 232.50) scale(0.86 1)">0.0</text>
<text transform="translate(27.6 187.66) scale(0.86 1)">0.2</text>
<text transform="translate(27.6 142.82) scale(0.86 1)">0.4</text>
<text transform="translate(27.6 97.98) scale(0.86 1)">0.6</text>
<text transform="translate(27.6 53.14) scale(0.86 1)">0.8</text>
<text transform="translate(27.6 8.30) scale(0.86 1)">1.0</text>
</g>
<g font-family="Liberation Sans" font-weight="bold" fill="#111" stroke="#111" stroke-width="0.15" font-size="11.2" text-anchor="middle">
<text transform="translate(34.70 246.4) scale(0.86 1)">400</text>
<text transform="translate(81.67 246.4) scale(0.86 1)">450</text>
<text transform="translate(128.63 246.4) scale(0.86 1)">500</text>
<text transform="translate(175.60 246.4) scale(0.86 1)">550</text>
<text transform="translate(222.57 246.4) scale(0.86 1)">600</text>
<text transform="translate(269.53 246.4) scale(0.86 1)">650</text>
<text transform="translate(316.50 246.4) scale(0.86 1)">700</text>
</g>
<text x="175.6" y="264.6" font-family="Liberation Sans" font-weight="bold" fill="#111" stroke="#111" stroke-width="0.15" font-size="11.85" text-anchor="middle">Wavelength (nm)</text>
<text transform="translate(10.3 117.3) rotate(-90) scale(0.92 1)" font-family="Liberation Sans" font-weight="bold" fill="#111" stroke="#111" stroke-width="0.15" font-size="12.6" text-anchor="middle">Absorbance (a.u.)</text>
<text x="35.4" y="22.0" font-family="Liberation Serif" font-weight="bold" font-size="18.8" fill="#000">A</text>
<g font-family="Liberation Sans" font-weight="bold" fill="#111" stroke="#111" stroke-width="0.15" font-size="9.3" stroke-width="0">
<line x1="249.3" y1="12.00" x2="267.2" y2="12.00" stroke="#8a1c1c" stroke-width="1.2"/>
<text transform="translate(269.6 15.20) scale(0.88 1)">DPPH</text>
<line x1="249.3" y1="22.73" x2="267.2" y2="22.73" stroke="#ff2020" stroke-width="1.2"/>
<text transform="translate(269.6 25.93) scale(0.88 1)">control</text>
<line x1="249.3" y1="33.46" x2="267.2" y2="33.46" stroke="#00e000" stroke-width="1.2"/>
<text transform="translate(269.6 36.66) scale(0.88 1)">1.95 <tspan font-weight="normal">µ</tspan>g/ml</text>
<line x1="249.3" y1="44.19" x2="267.2" y2="44.19" stroke="#0000ff" stroke-width="1.2"/>
<text transform="translate(269.6 47.39) scale(0.88 1)">3.91 <tspan font-weight="normal">µ</tspan>g/ml</text>
<line x1="249.3" y1="54.92" x2="267.2" y2="54.92" stroke="#ff8000" stroke-width="1.2"/>
<text transform="translate(269.6 58.12) scale(0.88 1)">7.81 <tspan font-weight="normal">µ</tspan>g/ml</text>
<line x1="249.3" y1="65.65" x2="267.2" y2="65.65" stroke="#ff00ff" stroke-width="1.2"/>
<text transform="translate(269.6 68.85) scale(0.88 1)">15.63 <tspan font-weight="normal">µ</tspan>g/ml</text>
<line x1="249.3" y1="76.38" x2="267.2" y2="76.38" stroke="#8000ff" stroke-width="1.2"/>
<text transform="translate(269.6 79.58) scale(0.88 1)">31.25 <tspan font-weight="normal">µ</tspan>g/ml</text>
<line x1="249.3" y1="87.11" x2="267.2" y2="87.11" stroke="#808000" stroke-width="1.2"/>
<text transform="translate(269.6 90.31) scale(0.88 1)">62.5 <tspan font-weight="normal">µ</tspan>g/ml</text>
<line x1="249.3" y1="97.84" x2="267.2" y2="97.84" stroke="#1c1c98" stroke-width="1.2"/>
<text transform="translate(269.6 101.04) scale(0.88 1)">125 <tspan font-weight="normal">µ</tspan>g/ml</text>
<line x1="249.3" y1="108.57" x2="267.2" y2="108.57" stroke="#962e96" stroke-width="1.2"/>
<text transform="translate(269.6 111.77) scale(0.88 1)">250 <tspan font-weight="normal">µ</tspan>g/ml</text>
<line x1="249.3" y1="119.30" x2="267.2" y2="119.30" stroke="#9a2020" stroke-width="1.2"/>
<text transform="translate(269.6 122.50) scale(0.88 1)">500 <tspan font-weight="normal">µ</tspan>g/ml</text>
<line x1="249.3" y1="130.03" x2="267.2" y2="130.03" stroke="#008000" stroke-width="1.2"/>
<text transform="translate(269.6 133.23) scale(0.88 1)">1000 <tspan font-weight="normal">µ</tspan>g/ml</text>
<line x1="249.3" y1="140.76" x2="267.2" y2="140.76" stroke="#008080" stroke-width="1.2"/>
<text transform="translate(269.6 143.96) scale(0.88 1)">2000 <tspan font-weight="normal">µ</tspan>g/ml</text>
<line x1="249.3" y1="151.49" x2="267.2" y2="151.49" stroke="#4040c4" stroke-width="1.2"/>
<text transform="translate(269.6 154.69) scale(0.88 1)">3000 <tspan font-weight="normal">µ</tspan>g/ml</text>
<line x1="249.3" y1="162.22" x2="267.2" y2="162.22" stroke="#00ffff" stroke-width="1.2"/>
<text transform="translate(269.6 165.42) scale(0.88 1)">4000 <tspan font-weight="normal">µ</tspan>g/ml</text>
</g>
<g stroke="#2b2b2b" stroke-width="1" fill="none">
<rect x="402.5" y="4.5" width="282" height="227"/>
<line x1="398.0" y1="231.20" x2="402.2" y2="231.20"/>
<line x1="398.0" y1="185.86" x2="402.2" y2="185.86"/>
<line x1="398.0" y1="140.52" x2="402.2" y2="140.52"/>
<line x1="398.0" y1="95.18" x2="402.2" y2="95.18"/>
<line x1="398.0" y1="49.84" x2="402.2" y2="49.84"/>
<line x1="398.0" y1="4.50" x2="402.2" y2="4.50"/>
<line x1="400.0" y1="208.53" x2="402.2" y2="208.53"/>
<line x1="400.0" y1="163.19" x2="402.2" y2="163.19"/>
<line x1="400.0" y1="117.85" x2="402.2" y2="117.85"/>
<line x1="400.0" y1="72.51" x2="402.2" y2="72.51"/>
<line x1="400.0" y1="27.17" x2="402.2" y2="27.17"/>
<line x1="402.20" y1="231.2" x2="402.20" y2="235.4"/>
<line x1="464.75" y1="231.2" x2="464.75" y2="235.4"/>
<line x1="527.30" y1="231.2" x2="527.30" y2="235.4"/>
<line x1="589.85" y1="231.2" x2="589.85" y2="235.4"/>
<line x1="652.40" y1="231.2" x2="652.40" y2="235.4"/>
<line x1="433.47" y1="231.2" x2="433.47" y2="233.2"/>
<line x1="496.02" y1="231.2" x2="496.02" y2="233.2"/>
<line x1="558.58" y1="231.2" x2="558.58" y2="233.2"/>
<line x1="621.12" y1="231.2" x2="621.12" y2="233.2"/>
</g>
<line x1="402.2" y1="117.60" x2="483.5" y2="117.60" stroke="#111" stroke-width="1.4" stroke-dasharray="6.6 2.6 1.5 3.3"/>
<path d="M482.6 115.50 L490.9 117.60 L482.6 119.70 Z" fill="#111"/>
<line x1="440.0" y1="118.90" x2="440.0" y2="225.5" stroke="#ff1493" stroke-width="1.3" stroke-dasharray="6.6 2.6 1.5 3.3"/>
<path d="M437.8 224.6 L442.2 224.6 L440.0 231.2 Z" fill="#ff1493"/>
<line x1="448.3" y1="118.90" x2="448.3" y2="225.5" stroke="#8a10ff" stroke-width="1.3" stroke-dasharray="6.6 2.6 1.5 3.3"/>
<path d="M446.1 224.6 L450.5 224.6 L448.3 231.2 Z" fill="#8a10ff"/>
<line x1="455.9" y1="118.90" x2="455.9" y2="225.5" stroke="#ff9a30" stroke-width="1.3" stroke-dasharray="6.6 2.6 1.5 3.3"/>
<path d="M453.7 224.6 L458.1 224.6 L455.9 231.2 Z" fill="#ff9a30"/>
<line x1="464.6" y1="118.90" x2="464.6" y2="225.5" stroke="#138a8a" stroke-width="1.0" stroke-dasharray="6.6 2.6 1.5 3.3"/>
<path d="M462.4 224.6 L466.8 224.6 L464.6 231.2 Z" fill="#138a8a"/>
<path d="M402.32 230.07L402.44 225.53L402.69 219.86L403.18 214.20L404.15 208.53L406.11 203.32L410.02 187.45L417.84 169.99L433.47 144.15L464.75 116.04L527.30 98.13L589.85 83.16L652.40 77.27" fill="none" stroke="#138a8a" stroke-width="1"/>
<rect x="399.97" y="227.72" width="4.7" height="4.7" fill="#138a8a"/>
<rect x="400.09" y="223.18" width="4.7" height="4.7" fill="#138a8a"/>
<rect x="400.34" y="217.51" width="4.7" height="4.7" fill="#138a8a"/>
<rect x="400.83" y="211.85" width="4.7" height="4.7" fill="#138a8a"/>
<rect x="401.80" y="206.18" width="4.7" height="4.7" fill="#138a8a"/>
<rect x="403.76" y="200.97" width="4.7" height="4.7" fill="#138a8a"/>
<rect x="407.67" y="185.10" width="4.7" height="4.7" fill="#138a8a"/>
<rect x="415.49" y="167.64" width="4.7" height="4.7" fill="#138a8a"/>
<rect x="431.12" y="141.80" width="4.7" height="4.7" fill="#138a8a"/>
<rect x="462.40" y="113.69" width="4.7" height="4.7" fill="#138a8a"/>
<rect x="524.95" y="95.78" width="4.7" height="4.7" fill="#138a8a"/>
<rect x="587.50" y="80.81" width="4.7" height="4.7" fill="#138a8a"/>
<rect x="650.05" y="74.92" width="4.7" height="4.7" fill="#138a8a"/>
<path d="M402.32 229.84L402.44 224.85L402.69 218.50L403.18 211.25L404.15 204.00L406.11 192.21L410.02 178.38L417.84 164.55L433.47 133.27L464.75 110.60L527.30 90.65L589.85 72.28L652.40 63.44" fill="none" stroke="#ff8a10" stroke-width="1"/>
<circle cx="402.32" cy="229.84" r="2.9" fill="#ff8a10"/>
<circle cx="402.44" cy="224.85" r="2.9" fill="#ff8a10"/>
<circle cx="402.69" cy="218.50" r="2.9" fill="#ff8a10"/>
<circle cx="403.18" cy="211.25" r="2.9" fill="#ff8a10"/>
<circle cx="404.15" cy="204.00" r="2.9" fill="#ff8a10"/>
<circle cx="406.11" cy="192.21" r="2.9" fill="#ff8a10"/>
<circle cx="410.02" cy="178.38" r="2.9" fill="#ff8a10"/>
<circle cx="417.84" cy="164.55" r="2.9" fill="#ff8a10"/>
<circle cx="433.47" cy="133.27" r="2.9" fill="#ff8a10"/>
<circle cx="464.75" cy="110.60" r="2.9" fill="#ff8a10"/>
<circle cx="527.30" cy="90.65" r="2.9" fill="#ff8a10"/>
<circle cx="589.85" cy="72.28" r="2.9" fill="#ff8a10"/>
<circle cx="652.40" cy="63.44" r="2.9" fill="#ff8a10"/>
<path d="M402.32 229.39L402.44 224.40L402.69 217.60L403.18 209.66L404.15 201.73L406.11 183.82L410.02 171.58L417.84 156.39L433.47 127.82L464.75 104.02L527.30 79.54L589.85 65.03L652.40 55.28" fill="none" stroke="#8a10ff" stroke-width="1"/>
<path d="M402.32 225.99L405.52 231.89L399.12 231.89Z" fill="#8a10ff"/>
<path d="M402.44 221.00L405.64 226.90L399.24 226.90Z" fill="#8a10ff"/>
<path d="M402.69 214.20L405.89 220.10L399.49 220.10Z" fill="#8a10ff"/>
<path d="M403.18 206.26L406.38 212.16L399.98 212.16Z" fill="#8a10ff"/>
<path d="M404.15 198.33L407.35 204.23L400.95 204.23Z" fill="#8a10ff"/>
<path d="M406.11 180.42L409.31 186.32L402.91 186.32Z" fill="#8a10ff"/>
<path d="M410.02 168.18L413.22 174.08L406.82 174.08Z" fill="#8a10ff"/>
<path d="M417.84 152.99L421.04 158.89L414.64 158.89Z" fill="#8a10ff"/>
<path d="M433.47 124.42L436.67 130.32L430.27 130.32Z" fill="#8a10ff"/>
<path d="M464.75 100.62L467.95 106.52L461.55 106.52Z" fill="#8a10ff"/>
<path d="M527.30 76.14L530.50 82.04L524.10 82.04Z" fill="#8a10ff"/>
<path d="M589.85 61.63L593.05 67.53L586.65 67.53Z" fill="#8a10ff"/>
<path d="M652.40 51.88L655.60 57.78L649.20 57.78Z" fill="#8a10ff"/>
<path d="M402.32 228.93L402.44 223.27L402.69 216.46L403.18 208.53L404.15 197.65L406.11 179.06L410.02 163.64L417.84 150.04L433.47 122.61L464.75 97.90L527.30 73.87L589.85 56.87L652.40 49.39" fill="none" stroke="#ff1493" stroke-width="1"/>
<path d="M402.32 225.33L405.92 228.93L402.32 232.53L398.72 228.93Z" fill="#ff1493"/>
<path d="M402.44 219.67L406.04 223.27L402.44 226.87L398.84 223.27Z" fill="#ff1493"/>
<path d="M402.69 212.86L406.29 216.46L402.69 220.06L399.09 216.46Z" fill="#ff1493"/>
<path d="M403.18 204.93L406.78 208.53L403.18 212.13L399.58 208.53Z" fill="#ff1493"/>
<path d="M404.15 194.05L407.75 197.65L404.15 201.25L400.55 197.65Z" fill="#ff1493"/>
<path d="M406.11 175.46L409.71 179.06L406.11 182.66L402.51 179.06Z" fill="#ff1493"/>
<path d="M410.02 160.04L413.62 163.64L410.02 167.24L406.42 163.64Z" fill="#ff1493"/>
<path d="M417.84 146.44L421.44 150.04L417.84 153.64L414.24 150.04Z" fill="#ff1493"/>
<path d="M433.47 119.01L437.07 122.61L433.47 126.21L429.87 122.61Z" fill="#ff1493"/>
<path d="M464.75 94.30L468.35 97.90L464.75 101.50L461.15 97.90Z" fill="#ff1493"/>
<path d="M527.30 70.27L530.90 73.87L527.30 77.47L523.70 73.87Z" fill="#ff1493"/>
<path d="M589.85 53.27L593.45 56.87L589.85 60.47L586.25 56.87Z" fill="#ff1493"/>
<path d="M652.40 45.79L656.00 49.39L652.40 52.99L648.80 49.39Z" fill="#ff1493"/>
<g font-family="Liberation Sans" font-weight="bold" fill="#111" stroke="#111" stroke-width="0.15" font-size="11.6" text-anchor="end">
<text transform="translate(394.7 235.05) scale(0.86 1)">0</text>
<text transform="translate(394.7 189.71) scale(0.86 1)">20</text>
<text transform="translate(394.7 144.37) scale(0.86 1)">40</text>
<text transform="translate(394.7 99.03) scale(0.86 1)">60</text>
<text transform="translate(394.7 53.69) scale(0.86 1)">80</text>
<text transform="translate(394.7 8.35) scale(0.86 1)">100</text>
</g>
<g font-family="Liberation Sans" font-weight="bold" fill="#111" stroke="#111" stroke-width="0.15" font-size="11.6" text-anchor="middle">
<text transform="translate(402.20 247.1) scale(0.86 1)">0</text>
<text transform="translate(464.75 247.1) scale(0.86 1)">1</text>
<text transform="translate(527.30 247.1) scale(0.86 1)">2</text>
<text transform="translate(589.85 247.1) scale(0.86 1)">3</text>
<text transform="translate(652.40 247.1) scale(0.86 1)">4</text>
</g>
<text x="543.2" y="266.3" font-family="Liberation Serif" font-weight="bold" font-size="12.0" fill="#000" text-anchor="middle">Concentration (mg/ml)</text>
<text transform="translate(371.6 122.3) rotate(-90)" font-family="Liberation Sans" font-weight="bold" fill="#111" stroke="#111" stroke-width="0.15" font-size="11.4" letter-spacing="1.0" text-anchor="middle">Inhibition (%)</text>
<text x="405.0" y="22.0" font-family="Liberation Serif" font-weight="bold" font-size="18.8" fill="#000">B</text>
<g font-family="Liberation Sans" font-weight="bold" fill="#111" stroke="#111" stroke-width="0.15" font-size="11.7">
<line x1="585.8" y1="167.20" x2="612.3" y2="167.20" stroke="#138a8a" stroke-width="1"/>
<rect x="596.65" y="164.85" width="4.7" height="4.7" fill="#138a8a"/>
<text x="615.9" y="171.20">CD-10</text>
<line x1="585.8" y1="182.00" x2="612.3" y2="182.00" stroke="#ff8a10" stroke-width="1"/>
<circle cx="599.00" cy="182.00" r="2.9" fill="#ff8a10"/>
<text x="615.9" y="186.00">CD-20</text>
<line x1="585.8" y1="196.60" x2="612.3" y2="196.60" stroke="#8a10ff" stroke-width="1"/>
<path d="M599.00 193.20L602.20 199.10L595.80 199.10Z" fill="#8a10ff"/>
<text x="615.9" y="200.60">CD-30</text>
<line x1="585.8" y1="211.60" x2="612.3" y2="211.60" stroke="#ff1493" stroke-width="1"/>
<path d="M599.00 208.00L602.60 211.60L599.00 215.20L595.40 211.60Z" fill="#ff1493"/>
<text x="615.9" y="215.60">CD-40</text>
</g>
</svg>
</body></html>
